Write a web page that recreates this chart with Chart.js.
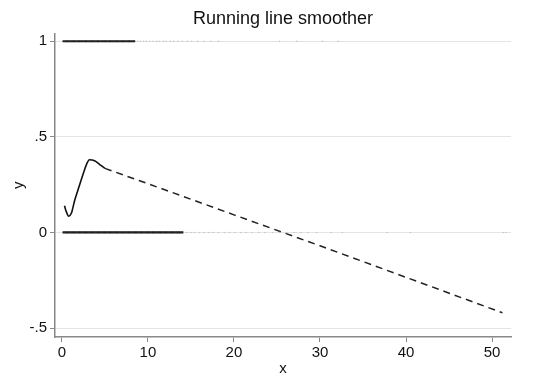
<!DOCTYPE html>
<html><head><meta charset="utf-8">
<script src="https://cdn.jsdelivr.net/npm/chart.js@4.4.1/dist/chart.umd.min.js"></script>
<style>html,body{margin:0;padding:0;background:#fff}#wrap{width:540px;height:387px}</style>
</head><body><div id="wrap"><canvas id="c"></canvas></div>
<script>
// Observed outcomes y=1 (dense part and sparse part)
const onesDenseX = [0.2,0.4,0.6,0.8,1.0,1.2,1.4,1.6,1.8,2.0,2.2,2.4,2.6,2.8,3.0,3.2,3.4,3.6,3.8,4.0,4.2,4.4,4.6,4.8,5.0,5.2,5.4,5.6,5.8,6.0,6.2,6.4,6.6,6.8,7.0,7.2,7.4,7.6,7.8,8.0,8.2,8.4];
const onesSparseX = [8.8,9.1,9.5,9.8,10.2,10.6,11.0,11.3,11.8,12.1,12.6,13.0,13.5,14.0,14.6,15.1,15.8,16.5,17.3,18.2,25.3,27.3,30.3,32.1];
// Observed outcomes y=0
const zerosDenseX = [0.2,0.4,0.6,0.8,1.0,1.2,1.4,1.6,1.8,2.0,2.2,2.4,2.6,2.8,3.0,3.2,3.4,3.6,3.8,4.0,4.2,4.4,4.6,4.8,5.0,5.2,5.4,5.6,5.8,6.0,6.2,6.4,6.6,6.8,7.0,7.2,7.4,7.6,7.8,8.0,8.2,8.4,8.6,8.8,9.0,9.2,9.4,9.6,9.8,10.0,10.2,10.4,10.6,10.8,11.0,11.2,11.4,11.6,11.8,12.0,12.2,12.4,12.6,12.8,13.0,13.2,13.4,13.6,13.8,14.0];
const zerosSparseX = [14.5,15.0,15.4,16.0,16.5,17.1,17.6,18.2,18.9,19.5,20.1,20.8,21.4,22.1,22.9,23.6,24.5,25.3,26.1,27.0,27.8,28.6,29.6,31.3,32.6,37.8,40.5,51.3,51.6];
// Running line smoother: solid part and dashed part
const smoothSolidX = [0.3,0.5,0.8,1.1,1.5,2.0,2.5,2.9,3.2,3.8,4.4,5.0];
const smoothSolidY = [0.14,0.11,0.085,0.10,0.17,0.24,0.31,0.36,0.38,0.375,0.355,0.335];
const smoothDashX = [5.0,10,20,30,40,51.2];
const smoothDashY = [0.335,0.255,0.092,-0.07,-0.235,-0.42];
const xTicks = [0,10,20,30,40,50];
const yTicks = [-0.5,0,0.5,1];
const yTickLabels = ["-.5","0",".5","1"];

const pts = (xs, y) => xs.map(x => ({x, y}));
const xy = (xs, ys) => xs.map((x,i) => ({x, y: ys[i]}));
const FONT = "'Liberation Sans', Arial, Helvetica, sans-serif";

new Chart(document.getElementById('c'), {
  type: 'scatter',
  data: { datasets: [
    {data: pts(onesDenseX,1), pointStyle: 'rect', pointRadius: 1.5, pointBorderWidth: 0, backgroundColor: '#1e1e1e'},
    {data: pts(onesSparseX,1), pointRadius: 0.8, pointBorderWidth: 0, backgroundColor: '#c4c4c4'},
    {data: pts(zerosDenseX,0), pointStyle: 'rect', pointRadius: 1.5, pointBorderWidth: 0, backgroundColor: '#1e1e1e'},
    {data: pts(zerosSparseX,0), pointRadius: 0.8, pointBorderWidth: 0, backgroundColor: '#c4c4c4'},
    {data: xy(smoothSolidX, smoothSolidY), showLine: true, pointRadius: 0, borderColor: '#111', borderWidth: 1.6, cubicInterpolationMode: 'monotone'},
    {data: xy(smoothDashX, smoothDashY), showLine: true, pointRadius: 0, borderColor: '#222', borderWidth: 1.5, borderDash: [7,5]}
  ]},
  options: {
    responsive: true, maintainAspectRatio: false, animation: false,
    layout: {padding: {left: 10, right: 29, top: 0, bottom: 0}},
    plugins: {
      legend: {display: false}, tooltip: {enabled: false},
      title: {display: true, fullSize: false, text: 'Running line smoother', color: '#111',
        font: {family: FONT, size: 18, weight: 'normal'}, padding: {top: 8, bottom: 4}}
    },
    scales: {
      x: {type: 'linear', min: -0.8, max: 52.2,
        afterBuildTicks: s => { s.ticks = xTicks.map(v => ({value: v})); },
        afterFit: s => { s.height = 50; },
        border: {color: '#888', width: 1.5},
        grid: {drawOnChartArea: false, drawTicks: true, tickLength: 5, tickColor: '#888'},
        ticks: {color: '#111', font: {family: FONT, size: 15}, padding: 2, maxRotation: 0},
        title: {display: true, text: 'x', color: '#111', font: {family: FONT, size: 15}, padding: {top: 0, bottom: 9}}
      },
      y: {type: 'linear', min: -0.547, max: 1.04,
        afterBuildTicks: s => { s.ticks = yTicks.map(v => ({value: v})); },
        afterFit: s => { s.width = 45; },
        border: {color: '#888', width: 1.5},
        grid: {color: '#e4e4e4', lineWidth: 1, drawTicks: true, tickLength: 5, tickColor: '#888'},
        ticks: {color: '#111', font: {family: FONT, size: 15}, padding: 3,
          callback: (v) => { const i = yTicks.indexOf(v); return i >= 0 ? yTickLabels[i] : ''; }},
        title: {display: true, text: 'y', color: '#111', font: {family: FONT, size: 15}, padding: {top: 0, bottom: 2}}
      }
    }
  }
});
</script></body></html>
